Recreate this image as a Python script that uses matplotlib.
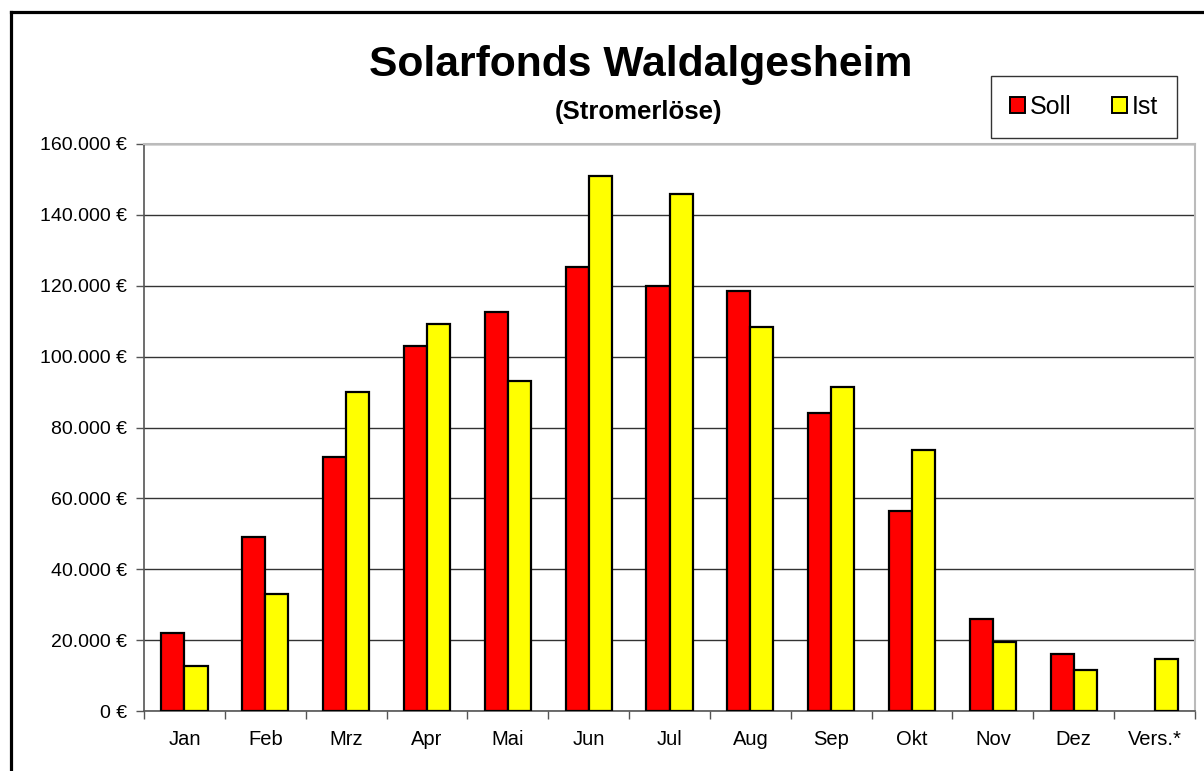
import matplotlib
matplotlib.use("Agg")
import matplotlib.pyplot as plt
from matplotlib.ticker import FuncFormatter, FixedLocator, NullFormatter
from matplotlib.patches import Patch
from matplotlib.lines import Line2D
import numpy as np

plt.rcParams['font.family'] = ['Liberation Sans', 'DejaVu Sans']

months = ['Jan', 'Feb', 'Mrz', 'Apr', 'Mai', 'Jun', 'Jul', 'Aug', 'Sep', 'Okt', 'Nov', 'Dez', 'Vers.*']
soll = [22100, 49000, 71700, 103000, 112600, 125200, 120000, 118400, 84000, 56500, 26000, 16000, np.nan]
ist = [12700, 33000, 89900, 109200, 93100, 150900, 145900, 108500, 91300, 73600, 19400, 11700, 14600]

fig = plt.figure(figsize=(12.04, 7.71), dpi=100)
ax = fig.add_axes([144/1204, 1 - 711/771, 1051/1204, 567/771])

x = np.arange(len(months))
w = 1 / 3.5
ax.bar(x - w/2, soll, w, color='#ff0000', edgecolor='black', linewidth=1.6, label='Soll', zorder=3)
ax.bar(x + w/2, ist, w, color='#ffff00', edgecolor='black', linewidth=1.6, label='Ist', zorder=3)

ax.set_xlim(-0.5, len(months) - 0.5)
ax.set_ylim(0, 160000)
ax.set_yticks(np.arange(0, 160001, 20000))
ax.yaxis.set_major_formatter(FuncFormatter(lambda v, p: f"{v:,.0f}".replace(",", ".") + " €"))
ax.yaxis.grid(True, color='#333333', linewidth=1.0, zorder=0)
ax.tick_params(axis='y', direction='out', length=6, width=1, color='#555555', labelsize=14, pad=6)

# category labels at centres, tick marks between categories
ax.xaxis.set_major_locator(FixedLocator(np.arange(-0.5, len(months), 1)))
ax.xaxis.set_major_formatter(NullFormatter())
ax.xaxis.set_minor_locator(FixedLocator(x))
ax.set_xticklabels(months, minor=True)
ax.tick_params(axis='x', which='major', direction='out', length=6, width=1, color='#555555')
ax.tick_params(axis='x', which='minor', length=0, labelsize=14.5, pad=14)

for s in ['left', 'bottom']:
    ax.spines[s].set_color('#555555')
    ax.spines[s].set_linewidth(1.2)
for s in ['top', 'right']:
    ax.spines[s].set_color('#bbbbbb')
    ax.spines[s].set_linewidth(1.5)

fig.text(641/1204, 1 - 76/771, 'Solarfonds Waldalgesheim', ha='center', va='baseline',
         fontsize=30.7, fontweight='bold')
fig.text(639/1204, 1 - 119/771, '(Stromerlöse)', ha='center', va='baseline',
         fontsize=18.5, fontweight='bold')

handles = [Patch(facecolor='#ff0000', edgecolor='black', linewidth=1.4),
           Patch(facecolor='#ffff00', edgecolor='black', linewidth=1.4)]
leg = fig.legend(handles, ['Soll', 'Ist'], loc='center', bbox_to_anchor=(1084/1204, 1 - 107/771),
                 ncol=2, frameon=True, fancybox=False, edgecolor='black', fontsize=18,
                 handlelength=0.6, handleheight=0.6, handletextpad=0.2, columnspacing=1.6,
                 borderpad=0.75, borderaxespad=0)
leg.get_frame().set_linewidth(1.0)
leg._legend_box.sep = 0

# outer chart frame
fig.add_artist(Line2D([10.5/1204, 10.5/1204], [0, 1 - 11.5/771], color='black', linewidth=2.3,
                      solid_capstyle='projecting', transform=fig.transFigure))
fig.add_artist(Line2D([10.5/1204, 1], [1 - 11.5/771, 1 - 11.5/771], color='black', linewidth=2.3,
                      solid_capstyle='projecting', transform=fig.transFigure))

fig.savefig('out.png', dpi=100)
